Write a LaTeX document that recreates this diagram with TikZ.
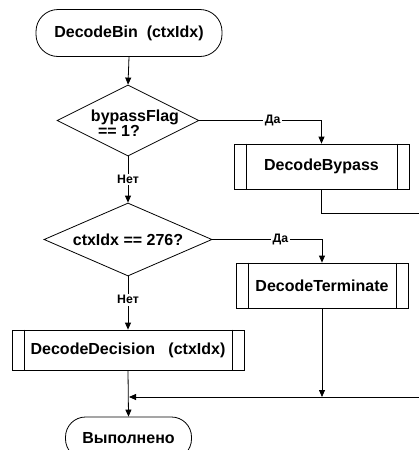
\documentclass[tikz,border=0pt]{standalone}
\usepackage{fontspec}
\setmainfont{Liberation Sans}
\usetikzlibrary{shapes.geometric,arrows.meta,calc}
\begin{document}
\begin{tikzpicture}[x=1pt,y=-1pt,
  line width=0.8pt,
  txt/.style={font=\fontsize{16}{17}\selectfont\bfseries},
  lbl/.style={font=\fontsize{12.3}{13}\selectfont\bfseries, fill=white, inner sep=1.5pt},
  term/.style={txt, draw, minimum width=#1, minimum height=47pt, rounded corners=22pt, inner sep=0pt},
  dia/.style={txt, draw, diamond, inner xsep=-40pt, inner ysep=-15pt, align=center},
  proc/.style={txt, draw, rectangle, inner sep=0pt,
    append after command={
      \pgfextra{\let\procnode\tikzlastnode}
      ($(\procnode.north west)+(12.5pt,0)$) edge[draw,-] ($(\procnode.south west)+(12.5pt,0)$)
      ($(\procnode.north east)+(-12pt,0)$) edge[draw,-] ($(\procnode.south east)+(-12pt,0)$)
    }},
  arr/.style={-{Triangle[length=7pt,width=6pt]}}
]
\useasboundingbox (0,0) rectangle (419,450);
\clip (0,0) rectangle (419,450);

\node[term=186pt] (start) at (129,33) {DecodeBin\ \ (ctxIdx)};
\node[dia, minimum width=142pt, minimum height=71pt] (d1) at (128,120.5) {\rule{0pt}{16pt}\hspace*{14pt}bypassFlag\\[-2pt]== 1?\hspace*{18pt}};
\node[proc, minimum width=175pt, minimum height=45pt] (bp) at (321.5,166.5) {DecodeBypass};
\node[dia, minimum width=168pt, minimum height=73pt] (d2) at (128,239.5) {ctxIdx == 276?};
\node[proc, minimum width=172pt, minimum height=45pt] (dt) at (322,285.5) {DecodeTerminate};
\node[proc, minimum width=232pt, minimum height=40pt] (dd) at (128,350) {DecodeDecision\ \ \ (ctxIdx)};
\node[term=126pt, minimum height=42pt, rounded corners=20pt] (end) at (128.5,438) {Выполнено};

\coordinate (m) at (129,397);
\coordinate (rt) at (440,213);

\draw[arr] (start.south) -- (d1.north);
\draw[arr] (d1.east) -| (bp.north) node[lbl, pos=0.3] {Да};
\draw[arr] (d1.south) -- (d2.north) node[lbl, pos=0.5] {Нет};
\draw[arr] (d2.east) -| (dt.north) node[lbl, pos=0.31] {Да};
\draw[arr] (d2.south) -- (dd.north) node[lbl, pos=0.44] {Нет};
\draw[arr] (dd.south) -- (end.north);
\draw[arr] (bp.south) |- (rt) |- (m);
\draw[arr] (dt.south) -- (dt.south |- m);
\end{tikzpicture}
\end{document}
